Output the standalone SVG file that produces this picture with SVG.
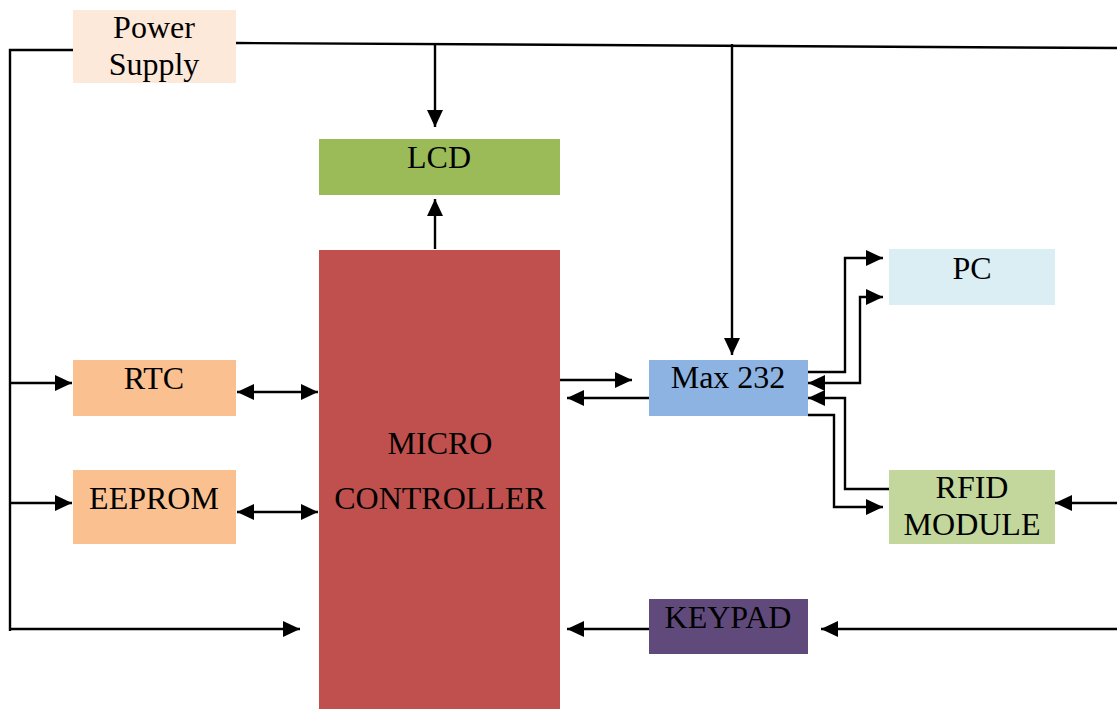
<svg xmlns="http://www.w3.org/2000/svg" width="1117" height="709" viewBox="0 0 1117 709">
<defs>
<marker id="ah" markerUnits="userSpaceOnUse" markerWidth="18" markerHeight="18" viewBox="0 0 18 18" refX="17" refY="9" orient="auto-start-reverse">
<path d="M0,1 L17,9 L0,17 Z" fill="#000"/>
</marker>
</defs>
<style>
.t{font-family:"Liberation Serif","Times New Roman",serif;font-size:32px;fill:#000;text-anchor:middle}
.c{fill:none;stroke:#000;stroke-width:2.4}
</style>
<rect width="1117" height="709" fill="#fff"/>
<g id="connectors">
<polyline class="c" points="73,50 10,50 10,631"/>
<line class="c" x1="236" y1="43" x2="1117" y2="48"/>
<line class="c" x1="435" y1="44" x2="435" y2="127" marker-end="url(#ah)"/>
<line class="c" x1="435" y1="249" x2="435" y2="199" marker-end="url(#ah)"/>
<line class="c" x1="732" y1="44" x2="732" y2="355" marker-end="url(#ah)"/>
<line class="c" x1="10" y1="383" x2="72" y2="383" marker-end="url(#ah)"/>
<line class="c" x1="10" y1="503" x2="72" y2="503" marker-end="url(#ah)"/>
<line class="c" x1="10" y1="629" x2="300" y2="629" marker-end="url(#ah)"/>
<line class="c" x1="237" y1="392" x2="318" y2="392" marker-start="url(#ah)" marker-end="url(#ah)"/>
<line class="c" x1="237" y1="512" x2="318" y2="512" marker-start="url(#ah)" marker-end="url(#ah)"/>
<line class="c" x1="558" y1="380" x2="632" y2="380" marker-end="url(#ah)"/>
<line class="c" x1="649" y1="398" x2="567" y2="398" marker-end="url(#ah)"/>
<polyline class="c" points="808,372 845,372 845,258 883,258" marker-end="url(#ah)"/>
<polyline class="c" points="883,297 860,297 860,383 808,383" marker-start="url(#ah)" marker-end="url(#ah)"/>
<polyline class="c" points="889,489 845,489 845,398 808,398" marker-end="url(#ah)"/>
<polyline class="c" points="808,415 834,415 834,507 883,507" marker-end="url(#ah)"/>
<line class="c" x1="1117" y1="503" x2="1055" y2="503" marker-end="url(#ah)"/>
<line class="c" x1="1117" y1="629" x2="821" y2="629" marker-end="url(#ah)"/>
<line class="c" x1="649" y1="629" x2="567" y2="629" marker-end="url(#ah)"/>
</g>
<g id="power-supply">
<rect x="73" y="10" width="163" height="73" fill="#FDE9D9"/>
<text class="t" x="154" y="38">Power</text>
<text class="t" x="154" y="75">Supply</text>
</g>
<g id="lcd">
<rect x="319" y="139" width="241" height="56" fill="#9BBB59"/>
<text class="t" x="439" y="168">LCD</text>
</g>
<g id="microcontroller">
<rect x="319" y="250" width="241" height="459" fill="#C0504D"/>
<text class="t" x="440" y="454">MICRO</text>
<text class="t" x="440" y="509">CONTROLLER</text>
</g>
<g id="rtc">
<rect x="73" y="360" width="163" height="56" fill="#FAC090"/>
<text class="t" x="154" y="389">RTC</text>
</g>
<g id="eeprom">
<rect x="73" y="470" width="163" height="74" fill="#FAC090"/>
<text class="t" x="154" y="509">EEPROM</text>
</g>
<g id="max232">
<rect x="649" y="360" width="159" height="56" fill="#8DB3E2"/>
<text class="t" x="728" y="388">Max 232</text>
</g>
<g id="pc">
<rect x="889" y="249" width="166" height="56" fill="#DAEEF3"/>
<text class="t" x="972" y="279">PC</text>
</g>
<g id="rfid">
<rect x="889" y="470" width="166" height="74" fill="#C3D69B"/>
<text class="t" x="972" y="498">RFID</text>
<text class="t" x="972" y="535">MODULE</text>
</g>
<g id="keypad">
<rect x="649" y="599" width="159" height="55" fill="#604A7B"/>
<text class="t" x="728" y="628">KEYPAD</text>
</g>
</svg>
